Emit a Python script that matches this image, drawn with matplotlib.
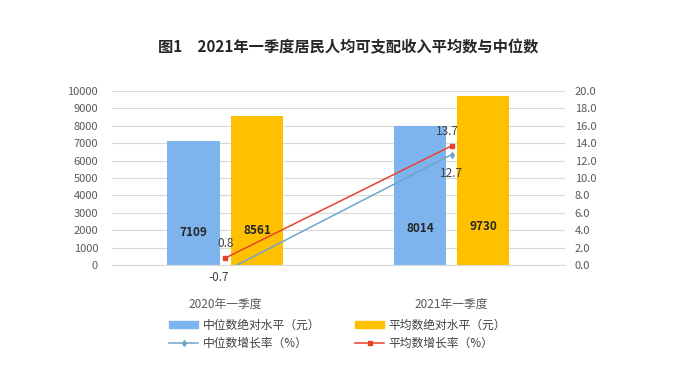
import matplotlib
matplotlib.use("Agg")
import matplotlib.pyplot as plt
from matplotlib.patches import Patch
from matplotlib.lines import Line2D
import numpy as np

plt.rcParams['font.family'] = ['Noto Sans CJK SC', 'DejaVu Sans']

categories = ["2020年一季度", "2021年一季度"]
median_level = [7109, 8014]
mean_level = [8561, 9730]
median_growth = [-0.7, 12.7]
mean_growth = [0.8, 13.7]
left_ticks = list(range(0, 10001, 1000))
right_ticks = [0, 2, 4, 6, 8, 10, 12, 14, 16, 18, 20]
title = "图1　2021年一季度居民人均可支配收入平均数与中位数"

c_med = "#7db4ee"
c_mean = "#ffc000"
c_med_line = "#6fa6c6"
c_mean_line = "#e8412c"
tick_color = "#595959"

fig = plt.figure(figsize=(6.76, 3.73), dpi=100)
ax = fig.add_axes([0.1657, 0.2895, 0.670, 0.4665])
ax2 = ax.twinx()

x = np.arange(len(categories))
w = 0.23
off = 0.14
ax.bar(x - off, median_level, w, color=c_med, zorder=2)
ax.bar(x + off, mean_level, w, color=c_mean, zorder=2)
for xi, v in zip(x - off, median_level):
    ax.text(xi, v * 0.26, f"{v}", ha="center", va="center", fontsize=8.5,
            fontweight="bold", color="#262626", zorder=3)
for xi, v in zip(x + off, mean_level):
    ax.text(xi, v * 0.23, f"{v}", ha="center", va="center", fontsize=8.5,
            fontweight="bold", color="#262626", zorder=3)

ax.set_xlim(-0.5, 1.5)
ax.set_ylim(0, 10000)
ax.set_yticks(left_ticks)
ax.set_yticklabels([str(t) for t in left_ticks])
ax.grid(axis="y", color="#d9d9d9", linewidth=0.8, zorder=0)
ax.set_axisbelow(True)
ax.set_xticks(x)
ax.set_xticklabels(categories)
ax.tick_params(axis="y", length=0, labelsize=8, colors=tick_color, pad=10)
ax.tick_params(axis="x", length=0, pad=24, labelsize=8.5, colors=tick_color)
for s in ["top", "right", "left"]:
    ax.spines[s].set_visible(False)
ax.spines["bottom"].set_color("#d9d9d9")

ax2.set_ylim(0, 20)
ax2.set_yticks(right_ticks)
ax2.set_yticklabels([f"{t:.1f}" for t in right_ticks])
ax2.tick_params(axis="y", length=0, labelsize=8, colors=tick_color, pad=7)
for s in ["top", "right", "left", "bottom"]:
    ax2.spines[s].set_visible(False)

ax2.plot(x, median_growth, color=c_med_line, linewidth=1.1, marker="d", markersize=3,
         zorder=4)
ax2.plot(x, mean_growth, color=c_mean_line, linewidth=1.1, marker="s", markersize=3,
         zorder=5)
ax2.text(x[0], mean_growth[0] + 0.9, f"{mean_growth[0]}", ha="center", va="bottom",
         fontsize=8.5, color="#404040")
ax2.text(x[0] - 0.03, median_growth[0] - 0.0, f"{median_growth[0]}", ha="center", va="top",
         fontsize=8.5, color="#404040")
ax2.text(x[1] - 0.02, mean_growth[1] + 0.9, f"{mean_growth[1]}", ha="center", va="bottom",
         fontsize=8.5, color="#404040")
ax2.text(x[1], median_growth[1] - 1.4, f"{median_growth[1]}", ha="center", va="top",
         fontsize=8.5, color="#404040")

fig.text(0.515, 0.873, title, ha="center", va="center", fontsize=11, fontweight="bold",
         color="#262626")

handles = [
    Patch(color=c_med),
    Line2D([], [], color=c_med_line, marker="d", markersize=3, linewidth=1.1),
    Patch(color=c_mean),
    Line2D([], [], color=c_mean_line, marker="s", markersize=3, linewidth=1.1),
]
labels = ["中位数绝对水平（元）", "中位数增长率（%）", "平均数绝对水平（元）", "平均数增长率（%）"]
leg = fig.legend(handles, labels, ncol=2, loc="upper left",
                 bbox_to_anchor=(0.235, 0.175), frameon=False, fontsize=8.5,
                 handlelength=2.4, handleheight=0.5, columnspacing=3.0,
                 labelspacing=0.45, handletextpad=0.4, labelcolor="#404040")

fig.savefig("out.png", dpi=100, facecolor="white")
